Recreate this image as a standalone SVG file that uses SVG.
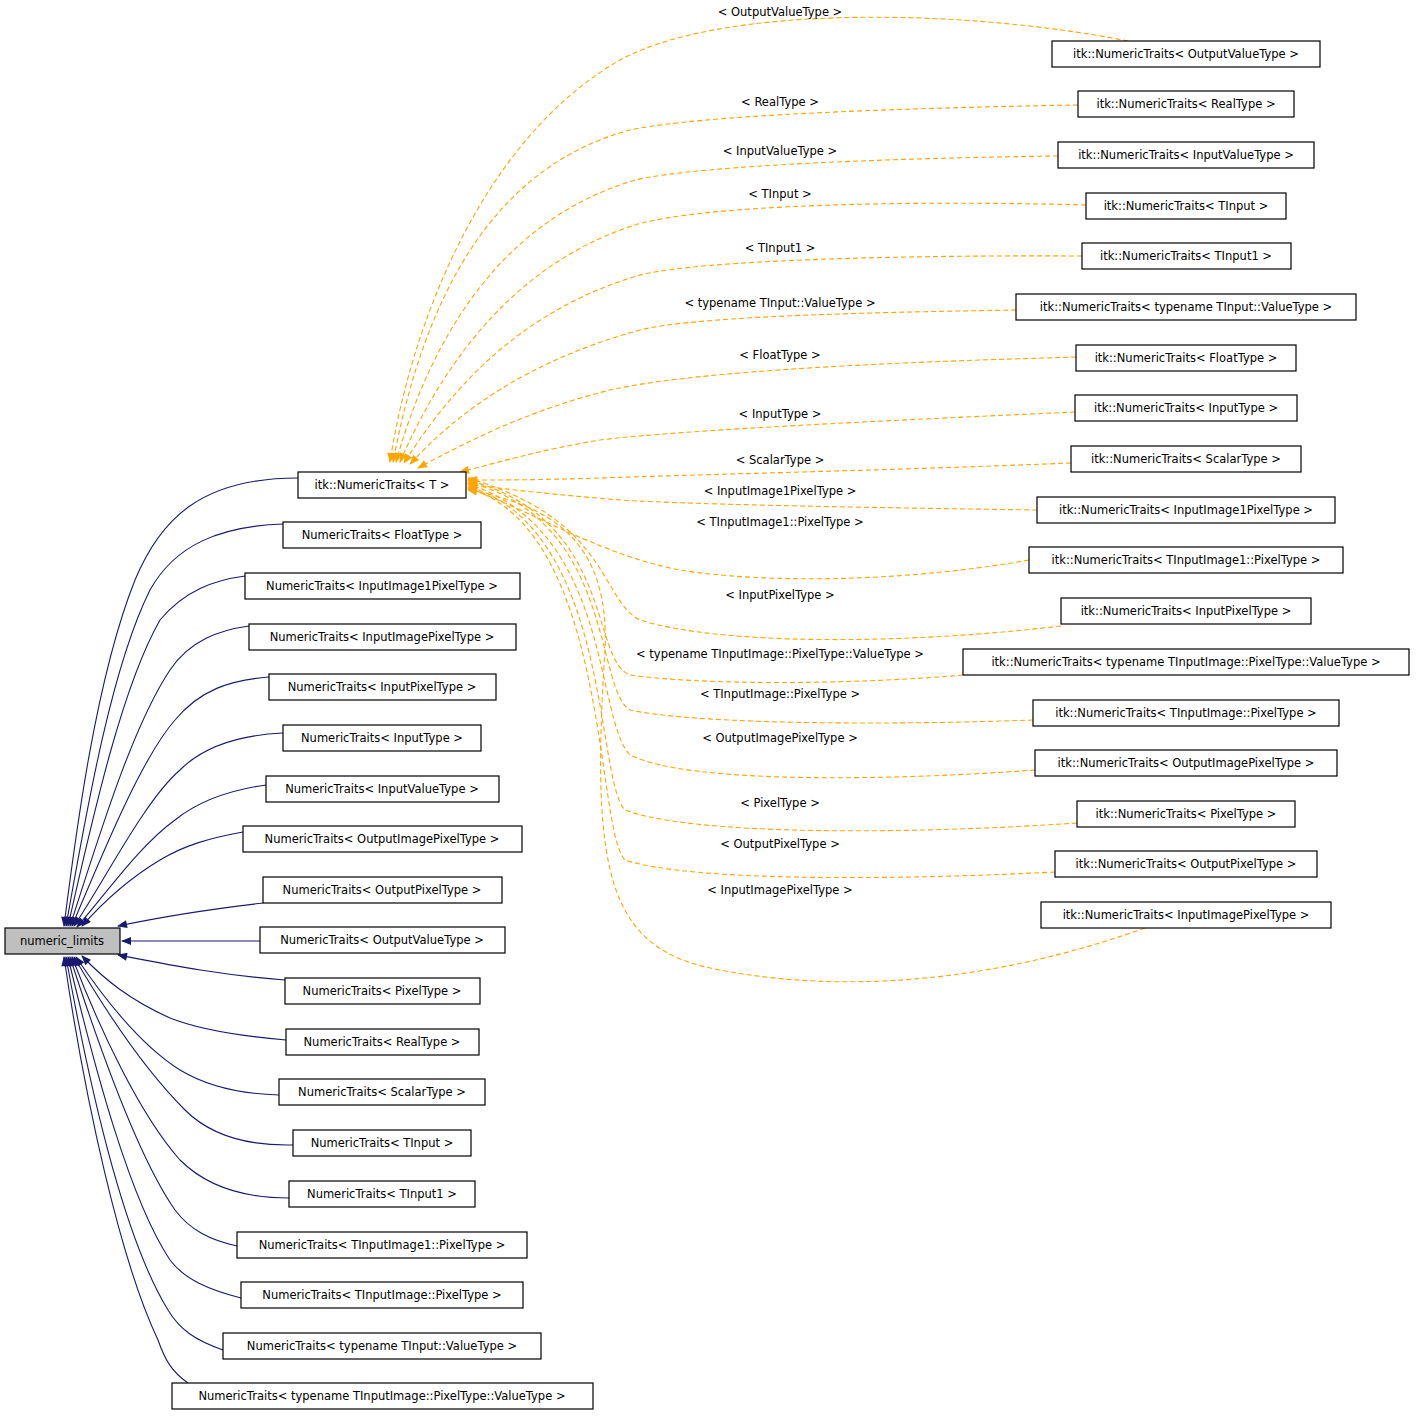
<svg xmlns="http://www.w3.org/2000/svg" width="1416" height="1416" viewBox="0 0 1416 1416">
<style>
text{font-family:"DejaVu Sans",sans-serif;font-size:11.5px;fill:#000;text-anchor:middle}
.n rect{fill:#fff;stroke:#000;stroke-width:1.2}
.g rect{fill:#bfbfbf}
.b{fill:none;stroke:#191970;stroke-width:1.1;marker-end:url(#mb)}
.o{fill:none;stroke:#ffa500;stroke-width:1.1;stroke-dasharray:5,3;marker-end:url(#mo)}
</style>
<defs>
<marker id="mb" viewBox="0 0 10 8" refX="9" refY="4" markerWidth="11" markerHeight="8" markerUnits="userSpaceOnUse" orient="auto"><path d="M0,0L10,4L0,8z" fill="#191970"/></marker>
<marker id="mo" viewBox="0 0 10 8" refX="9" refY="4" markerWidth="11" markerHeight="8" markerUnits="userSpaceOnUse" orient="auto"><path d="M0,0L10,4L0,8z" fill="#ffa500"/></marker>
</defs>
<rect width="1416" height="1416" fill="#fff"/>
<g id="edges">
<path class="b" d="M298,478 C200,478 160,520 135,580 C95,680 75,840 64,926"/>
<path class="b" d="M283,524 C220,526 175,545 150,590 C110,670 85,820 66,926"/>
<path class="b" d="M245,576 C215,580 185,590 160,620 C120,690 90,830 68,926"/>
<path class="b" d="M249,626 C220,630 190,640 170,670 C130,730 95,850 70,926"/>
<path class="b" d="M269,677 C230,680 200,690 175,720 C140,760 100,860 72,926"/>
<path class="b" d="M283,733 C240,735 205,745 180,770 C145,800 105,880 74,926"/>
<path class="b" d="M266,785 C230,790 200,800 175,820 C140,845 105,895 77,927"/>
<path class="b" d="M243,832 C210,838 185,845 160,860 C130,878 105,900 82,926"/>
<path class="b" d="M263,903 C220,908 170,915 118,926"/>
<path class="b" d="M260,941 L122,941"/>
<path class="b" d="M285,980 C220,975 170,965 118,955"/>
<path class="b" d="M286,1040 C240,1036 200,1030 170,1018 C130,1000 105,980 82,956"/>
<path class="b" d="M279,1095 C240,1094 205,1085 180,1070 C140,1045 105,1000 76,957"/>
<path class="b" d="M293,1145 C245,1146 210,1135 185,1110 C145,1070 105,1010 74,957"/>
<path class="b" d="M289,1198 C240,1198 205,1185 180,1160 C140,1115 100,1030 72,957"/>
<path class="b" d="M237,1246 C210,1240 190,1230 175,1210 C140,1160 100,1050 70,957"/>
<path class="b" d="M241,1298 C210,1290 185,1280 170,1260 C130,1200 95,1070 68,957"/>
<path class="b" d="M223,1350 C195,1340 180,1330 168,1310 C125,1240 90,1090 66,957"/>
<path class="b" d="M188,1383 C172,1372 165,1360 158,1340 C120,1260 85,1100 64,957"/>

<path class="o" d="M1128,41 C960,8 720,5 620,60 C480,140 410,330 390,462"/>
<path class="o" d="M1078,105 C900,108 700,115 630,130 C480,170 420,320 393,462"/>
<path class="o" d="M1058,156 C900,158 700,165 635,180 C500,220 430,340 396,462"/>
<path class="o" d="M1086,205 C900,200 700,205 635,225 C510,265 440,370 400,462"/>
<path class="o" d="M1082,256 C900,255 700,260 640,275 C520,310 450,390 404,463"/>
<path class="o" d="M1016,310 C900,312 700,315 640,330 C530,360 460,410 410,464"/>
<path class="o" d="M1076,357 C900,362 700,370 610,390 C530,410 470,440 418,468"/>
<path class="o" d="M1075,412 C900,420 680,430 600,440 C540,450 500,462 460,472"/>
<path class="o" d="M1071,463 C900,470 680,475 600,478 C540,480 500,480 468,480"/>
<path class="o" d="M1037,510 C900,508 700,505 620,500 C560,495 510,490 468,484"/>
<path class="o" d="M1029,560 C900,583 760,583 680,570 C600,555 530,510 468,488"/>
<path class="o" d="M1061,626 C900,645 720,645 640,620 C600,600 610,520 468,478"/>
<path class="o" d="M963,675 C850,685 700,685 630,675 C590,660 615,520 468,480"/>
<path class="o" d="M1033,720 C900,725 700,725 630,710 C595,690 615,520 468,482"/>
<path class="o" d="M1035,770 C900,780 690,785 630,755 C595,720 612,530 468,484"/>
<path class="o" d="M1077,823 C900,835 690,835 625,810 C595,780 612,530 468,486"/>
<path class="o" d="M1055,872 C900,880 690,882 625,860 C595,830 610,530 468,488"/>
<path class="o" d="M1145,928 C1000,980 850,995 720,970 C610,950 590,880 605,650 C610,540 550,505 468,490"/>
</g>
<g id="numeric_limits" class="n g"><rect x="5" y="928" width="115" height="26"/><text x="62" y="945">numeric_limits</text></g>
<g id="m1" class="n"><rect x="298" y="472" width="168" height="26"/><text x="382" y="489">itk::NumericTraits&lt; T &gt;</text></g>
<g id="m2" class="n"><rect x="283" y="522" width="198" height="26"/><text x="382" y="539">NumericTraits&lt; FloatType &gt;</text></g>
<g id="m3" class="n"><rect x="245" y="573" width="275" height="26"/><text x="382" y="590">NumericTraits&lt; InputImage1PixelType &gt;</text></g>
<g id="m4" class="n"><rect x="249" y="624" width="267" height="26"/><text x="382" y="641">NumericTraits&lt; InputImagePixelType &gt;</text></g>
<g id="m5" class="n"><rect x="269" y="674" width="227" height="26"/><text x="382" y="691">NumericTraits&lt; InputPixelType &gt;</text></g>
<g id="m6" class="n"><rect x="283" y="725" width="198" height="26"/><text x="382" y="742">NumericTraits&lt; InputType &gt;</text></g>
<g id="m7" class="n"><rect x="266" y="776" width="233" height="26"/><text x="382" y="793">NumericTraits&lt; InputValueType &gt;</text></g>
<g id="m8" class="n"><rect x="243" y="826" width="279" height="26"/><text x="382" y="843">NumericTraits&lt; OutputImagePixelType &gt;</text></g>
<g id="m9" class="n"><rect x="263" y="877" width="239" height="26"/><text x="382" y="894">NumericTraits&lt; OutputPixelType &gt;</text></g>
<g id="m10" class="n"><rect x="260" y="927" width="245" height="26"/><text x="382" y="944">NumericTraits&lt; OutputValueType &gt;</text></g>
<g id="m11" class="n"><rect x="285" y="978" width="195" height="26"/><text x="382" y="995">NumericTraits&lt; PixelType &gt;</text></g>
<g id="m12" class="n"><rect x="286" y="1029" width="193" height="26"/><text x="382" y="1046">NumericTraits&lt; RealType &gt;</text></g>
<g id="m13" class="n"><rect x="279" y="1079" width="206" height="26"/><text x="382" y="1096">NumericTraits&lt; ScalarType &gt;</text></g>
<g id="m14" class="n"><rect x="293" y="1130" width="178" height="26"/><text x="382" y="1147">NumericTraits&lt; TInput &gt;</text></g>
<g id="m15" class="n"><rect x="289" y="1181" width="186" height="26"/><text x="382" y="1198">NumericTraits&lt; TInput1 &gt;</text></g>
<g id="m16" class="n"><rect x="237" y="1232" width="290" height="26"/><text x="382" y="1249">NumericTraits&lt; TInputImage1::PixelType &gt;</text></g>
<g id="m17" class="n"><rect x="241" y="1282" width="282" height="26"/><text x="382" y="1299">NumericTraits&lt; TInputImage::PixelType &gt;</text></g>
<g id="m18" class="n"><rect x="223" y="1333" width="318" height="26"/><text x="382" y="1350">NumericTraits&lt; typename TInput::ValueType &gt;</text></g>
<g id="m19" class="n"><rect x="172" y="1383" width="421" height="26"/><text x="382" y="1400">NumericTraits&lt; typename TInputImage::PixelType::ValueType &gt;</text></g>

<g id="r1" class="n"><rect x="1052" y="41" width="268" height="26"/><text x="1186" y="58">itk::NumericTraits&lt; OutputValueType &gt;</text></g>
<g id="r2" class="n"><rect x="1078" y="91" width="216" height="26"/><text x="1186" y="108">itk::NumericTraits&lt; RealType &gt;</text></g>
<g id="r3" class="n"><rect x="1058" y="142" width="256" height="26"/><text x="1186" y="159">itk::NumericTraits&lt; InputValueType &gt;</text></g>
<g id="r4" class="n"><rect x="1086" y="193" width="200" height="26"/><text x="1186" y="210">itk::NumericTraits&lt; TInput &gt;</text></g>
<g id="r5" class="n"><rect x="1082" y="243" width="209" height="26"/><text x="1186" y="260">itk::NumericTraits&lt; TInput1 &gt;</text></g>
<g id="r6" class="n"><rect x="1016" y="294" width="340" height="26"/><text x="1186" y="311">itk::NumericTraits&lt; typename TInput::ValueType &gt;</text></g>
<g id="r7" class="n"><rect x="1076" y="345" width="220" height="26"/><text x="1186" y="362">itk::NumericTraits&lt; FloatType &gt;</text></g>
<g id="r8" class="n"><rect x="1075" y="395" width="222" height="26"/><text x="1186" y="412">itk::NumericTraits&lt; InputType &gt;</text></g>
<g id="r9" class="n"><rect x="1071" y="446" width="230" height="26"/><text x="1186" y="463">itk::NumericTraits&lt; ScalarType &gt;</text></g>
<g id="r10" class="n"><rect x="1037" y="497" width="298" height="26"/><text x="1186" y="514">itk::NumericTraits&lt; InputImage1PixelType &gt;</text></g>
<g id="r11" class="n"><rect x="1029" y="547" width="314" height="26"/><text x="1186" y="564">itk::NumericTraits&lt; TInputImage1::PixelType &gt;</text></g>
<g id="r12" class="n"><rect x="1061" y="598" width="250" height="26"/><text x="1186" y="615">itk::NumericTraits&lt; InputPixelType &gt;</text></g>
<g id="r13" class="n"><rect x="963" y="649" width="446" height="26"/><text x="1186" y="666">itk::NumericTraits&lt; typename TInputImage::PixelType::ValueType &gt;</text></g>
<g id="r14" class="n"><rect x="1033" y="700" width="306" height="26"/><text x="1186" y="717">itk::NumericTraits&lt; TInputImage::PixelType &gt;</text></g>
<g id="r15" class="n"><rect x="1035" y="750" width="302" height="26"/><text x="1186" y="767">itk::NumericTraits&lt; OutputImagePixelType &gt;</text></g>
<g id="r16" class="n"><rect x="1077" y="801" width="218" height="26"/><text x="1186" y="818">itk::NumericTraits&lt; PixelType &gt;</text></g>
<g id="r17" class="n"><rect x="1055" y="851" width="262" height="26"/><text x="1186" y="868">itk::NumericTraits&lt; OutputPixelType &gt;</text></g>
<g id="r18" class="n"><rect x="1041" y="902" width="290" height="26"/><text x="1186" y="919">itk::NumericTraits&lt; InputImagePixelType &gt;</text></g>

<g id="labels">
<text x="780" y="16">&lt; OutputValueType &gt;</text>
<text x="780" y="106">&lt; RealType &gt;</text>
<text x="780" y="155">&lt; InputValueType &gt;</text>
<text x="780" y="198">&lt; TInput &gt;</text>
<text x="780" y="252">&lt; TInput1 &gt;</text>
<text x="780" y="307">&lt; typename TInput::ValueType &gt;</text>
<text x="780" y="359">&lt; FloatType &gt;</text>
<text x="780" y="418">&lt; InputType &gt;</text>
<text x="780" y="464">&lt; ScalarType &gt;</text>
<text x="780" y="495">&lt; InputImage1PixelType &gt;</text>
<text x="780" y="526">&lt; TInputImage1::PixelType &gt;</text>
<text x="780" y="599">&lt; InputPixelType &gt;</text>
<text x="780" y="658">&lt; typename TInputImage::PixelType::ValueType &gt;</text>
<text x="780" y="698">&lt; TInputImage::PixelType &gt;</text>
<text x="780" y="742">&lt; OutputImagePixelType &gt;</text>
<text x="780" y="807">&lt; PixelType &gt;</text>
<text x="780" y="848">&lt; OutputPixelType &gt;</text>
<text x="780" y="894">&lt; InputImagePixelType &gt;</text>
</g>
</svg>
